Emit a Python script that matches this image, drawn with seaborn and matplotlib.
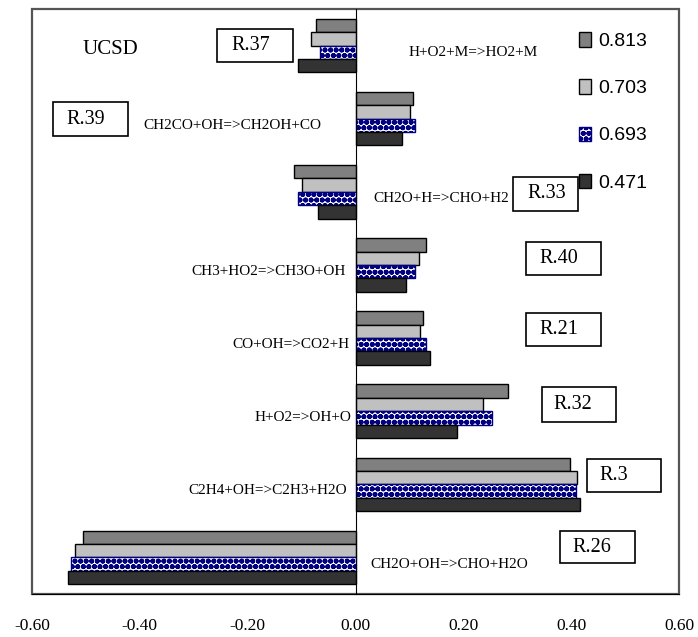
import numpy as np
import pandas as pd
import matplotlib
matplotlib.use("Agg")
import matplotlib.pyplot as plt
from matplotlib.patches import Rectangle, Patch
import seaborn as sns

# Data (sensitivity coefficients, UCSD mechanism)
reactions = ["R.37", "R.39", "R.33", "R.40", "R.21", "R.32", "R.3", "R.26"]
equations = ["H+O2+M=>HO2+M", "CH2CO+OH=>CH2OH+CO", "CH2O+H=>CHO+H2",
             "CH3+HO2=>CH3O+OH", "CO+OH=>CO2+H", "H+O2=>OH+O",
             "C2H4+OH=>C2H3+H2O", "CH2O+OH=>CHO+H2O"]
phi_labels = ["0.813", "0.703", "0.693", "0.471"]
sens_0813 = [-0.074, 0.107, -0.114, 0.130, 0.125, 0.283, 0.398, -0.506]
sens_0703 = [-0.083, 0.102, -0.099, 0.117, 0.119, 0.236, 0.410, -0.521]
sens_0693 = [-0.065, 0.111, -0.107, 0.110, 0.131, 0.253, 0.409, -0.527]
sens_0471 = [-0.107, 0.087, -0.069, 0.093, 0.138, 0.188, 0.417, -0.534]
x_ticks = [-0.6, -0.4, -0.2, 0.0, 0.2, 0.4, 0.6]

# Layout / style (kept apart from the data)
W, H = 698, 637
bar_colors = ["#808080", "#c0c0c0", "#ffffff", "#333333"]
# equation label anchor: (x in data units, alignment)
eq_place = [(0.098, "left"), (-0.229, "center"), (0.033, "left"), (-0.018, "right"),
            (-0.011, "right"), (-0.008, "right"), (-0.015, "right"), (0.027, "left")]
# reaction boxes in pixels: x0, y0, x1, y1, text left
box_px = [(217, 29, 293, 62, 231), (53, 102, 128, 136, 66), (513, 177, 578, 211, 527),
          (526, 242, 601, 275, 539), (526, 313, 601, 346, 539), (542, 387, 616, 422, 553),
          (587, 459, 661, 492, 599), (560, 531, 635, 563, 572)]

sns.set_style("white")
plt.rcParams["font.family"] = ["Liberation Serif", "DejaVu Serif"]
plt.rcParams["text.color"] = "black"
plt.rcParams["xtick.color"] = "black"
plt.rcParams["hatch.linewidth"] = 1.9

df = pd.DataFrame({
    "reaction": reactions * 4,
    "phi": np.repeat(phi_labels, len(reactions)),
    "value": sens_0813 + sens_0703 + sens_0693 + sens_0471,
})

fig = plt.figure(figsize=(W / 100, H / 100), dpi=100)
ax = fig.add_axes([32 / W, 1 - 594 / H, 647 / W, 585 / H])

sns.barplot(data=df, y="reaction", x="value", hue="phi", hue_order=phi_labels,
            order=reactions, orient="h", palette=bar_colors, saturation=1,
            width=0.73, gap=0, edgecolor="black", linewidth=1.0, legend=False, ax=ax)

# patterned series
for bar in ax.containers[2]:
    bar.set_edgecolor("#000080")
    bar.set_hatch("ooo")

ax.set_xlim(-0.6, 0.6)
ax.set_ylim(len(reactions) - 0.5, -0.5)
ax.set_xticks(x_ticks)
ax.set_xticklabels([f"{t:.2f}" for t in x_ticks], fontsize=12.5, color="black")
ax.set_yticks(np.arange(0.5, len(reactions) - 1, 1))
ax.set_yticklabels([])
ax.set_xlabel("")
ax.set_ylabel("")
ax.tick_params(axis="x", direction="out", length=5, width=1, pad=12, color="black")
ax.tick_params(axis="y", direction="inout", length=8, width=1, color="black")

ax.spines["left"].set_position(("data", 0))
ax.spines["left"].set_color("black")
ax.spines["bottom"].set_color("black")
ax.spines["top"].set_visible(False)
ax.spines["right"].set_visible(False)
ax.patch.set_edgecolor("#555555")
ax.patch.set_linewidth(1.6)

for i, (eq, (xp, ha)) in enumerate(zip(equations, eq_place)):
    ax.text(xp, i + 0.09, eq, ha=ha, va="center", fontsize=11)

for name, (x0, y0, x1, y1, xt) in zip(reactions, box_px):
    fig.add_artist(Rectangle((x0 / W, 1 - y1 / H), (x1 - x0) / W, (y1 - y0) / H,
                             transform=fig.transFigure, facecolor="white",
                             edgecolor="black", linewidth=1.2, zorder=5))
    fig.text(xt / W, 1 - (y0 + y1) / 2 / H, name, ha="left", va="center",
             fontsize=14.5, zorder=6)

ax.text(0.078, 0.93, "UCSD", transform=ax.transAxes, ha="left", va="center", fontsize=15)

handles = [Patch(facecolor=c, edgecolor="black") for c in bar_colors]
handles[2] = Patch(facecolor="white", edgecolor="#000080", hatch="ooo")
ax.legend(handles, phi_labels, loc="upper left", bbox_to_anchor=(0.845, 0.96),
          frameon=False, prop={"family": "Liberation Sans", "size": 14},
          handlelength=0.65, handleheight=0.75, handletextpad=0.35,
          labelspacing=1.5, borderpad=0, borderaxespad=0)

fig.savefig("out.png", dpi=100)
